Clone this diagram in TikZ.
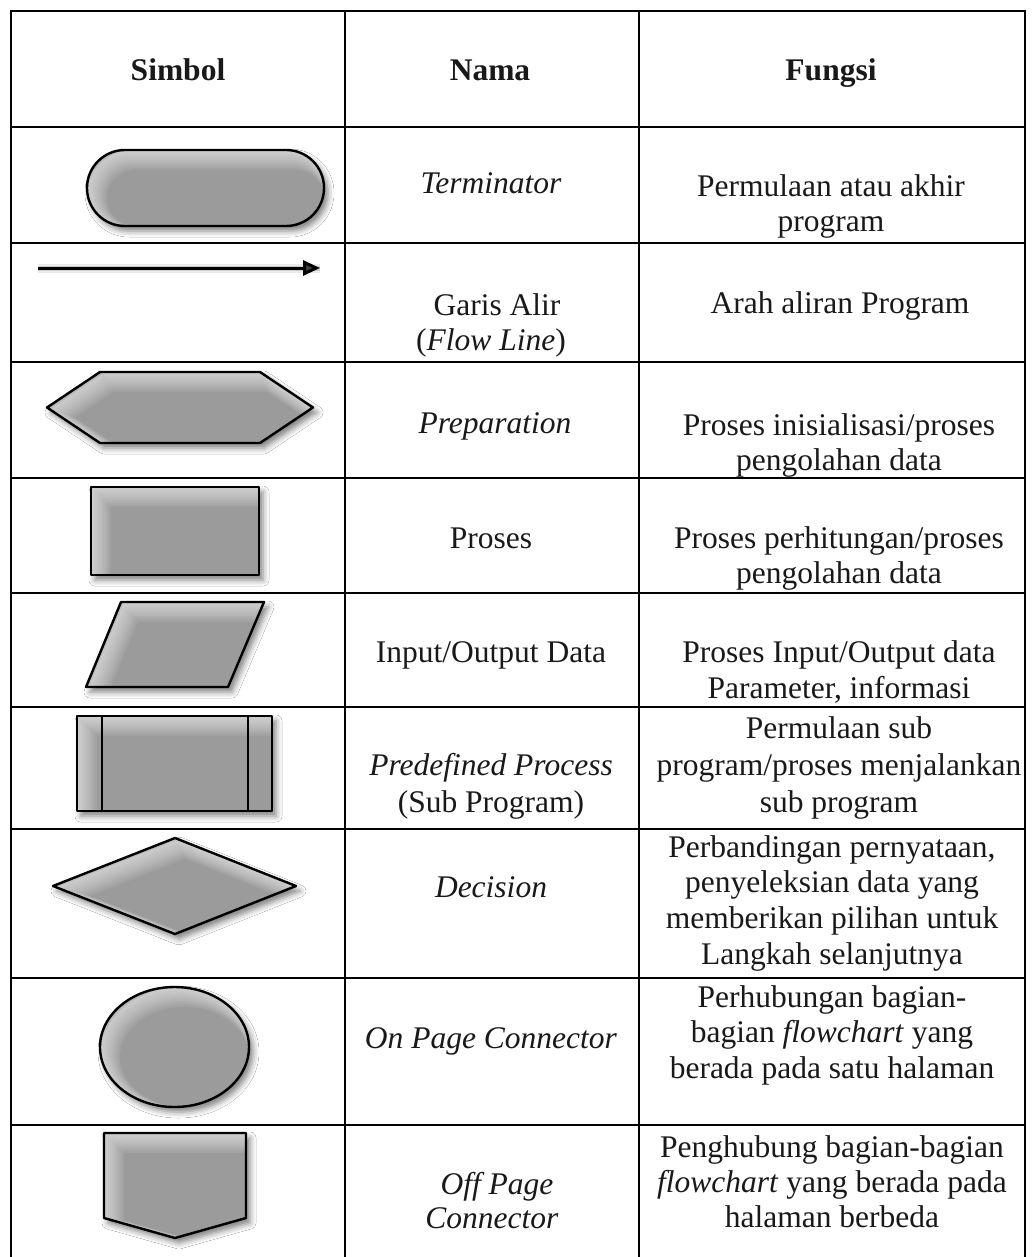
\documentclass[tikz,border=0pt]{standalone}
\usepackage{fontspec}
\setmainfont{Liberation Serif}
\usetikzlibrary{arrows.meta,shadows.blur}
\definecolor{symfill}{RGB}{155,155,155}
\definecolor{inkcol}{RGB}{25,25,25}
\tikzset{
  grid/.style={line width=2.8pt, line cap=rect},
  txt/.style={anchor=base, inner sep=0pt, text=inkcol, font=\fontsize{31.5}{35.5}\selectfont},
  hd/.style={txt, font=\fontsize{31.5}{35.5}\selectfont\bfseries},
  symshadow/.style={blur shadow={shadow xshift=4pt, shadow yshift=-5pt, shadow blur radius=6pt, shadow opacity=50}},
  outline/.style={draw=black, line width=2.4pt, line join=round},
  flow/.style={line width=3pt, -{Triangle[length=17pt,width=15pt]}},
}
% a flowchart symbol: soft shadow, grey fill, soft light inner edge at top left, black outline
\newcommand\flowsym[1]{%
  \path[symshadow, fill=symfill] #1;
  \begin{scope}
    \clip #1;
    \foreach \w in {2,4,...,20}{
      \draw[white, line width=\w pt, opacity=0.075, shift={(\w/2,\w/2)}] #1;}
  \end{scope}
  \draw[outline] #1;
}
\begin{document}
\begin{tikzpicture}[x=1pt,y=-1pt]
\useasboundingbox[fill=white] (0,0) rectangle (1034,1257);

% table rules
\foreach \yy in {11,127,243,362,478,593,707,829,978,1125}
  \draw[grid] (11,\yy) -- (1025,\yy);
\foreach \xx in {11,345,639,1025}
  \draw[grid] (\xx,11) -- (\xx,1262);

% header
\node[hd] (hs) at (178,81) {Simbol};
\node[hd] (hn) at (490,81) {Nama};
\node[hd] (hf) at (831,81) {Fungsi};

% symbols
\flowsym{[rounded corners=37.9pt] (87,150) rectangle (324,226)}
\coordinate (fa) at (38,268);
\coordinate (fb) at (320,268);
\draw[line width=9pt, black, opacity=0.08, shift={(3,5)}] (fa) -- (fb);
\draw[line width=5pt, black, opacity=0.12, shift={(3,5)}] (fa) -- (fb);
\draw[flow] (fa) -- (fb);
\flowsym{(47,407.5) -- (100,372) -- (260,372) -- (313,407.5) -- (260,443) -- (100,443) -- cycle}
\flowsym{(91,487) rectangle (259,575)}
\flowsym{(121,602) -- (264,602) -- (228,687) -- (86,687) -- cycle}
\flowsym{(77,716) rectangle (272,811)}
\draw[outline] (102,716) -- (102,811) (248,716) -- (248,811);
\flowsym{(53,886) -- (175,838) -- (296,886) -- (175,934) -- cycle}
\flowsym{(174.5,1047) ellipse [x radius=74.5, y radius=60]}
\flowsym{(104,1133) -- (246,1133) -- (246,1218) -- (175,1238) -- (104,1218) -- cycle}

% names
\node[txt] (n1) at (491,194) {\textit{Terminator}};
\node[txt] (n2a) at (497,315) {Garis Alir};
\node[txt] (n2b) at (491,350) {(\textit{Flow Line})};
\node[txt] (n3) at (495,433) {\textit{Preparation}};
\node[txt] (n4) at (491,548) {Proses};
\node[txt] (n5) at (491,662) {Input/Output Data};
\node[txt] (n6a) at (491,775) {\textit{Predefined Process}};
\node[txt] (n6b) at (491,812) {(Sub Program)};
\node[txt] (n7) at (491,897) {\textit{Decision}};
\node[txt] (n8) at (491,1048) {\textit{On Page Connector}};
\node[txt] (n9a) at (497,1194) {\textit{Off Page}};
\node[txt] (n9b) at (492,1228) {\textit{Connector}};

% functions
\node[txt] (f1a) at (831,197) {Permulaan atau akhir};
\node[txt] (f1b) at (831,232) {program};
\node[txt] (f2) at (840,313) {Arah aliran Program};
\node[txt] (f3a) at (839,435) {Proses inisialisasi/proses};
\node[txt] (f3b) at (839,470) {pengolahan data};
\node[txt] (f4a) at (839,548) {Proses perhitungan/proses};
\node[txt] (f4b) at (839,583) {pengolahan data};
\node[txt] (f5a) at (839,662) {Proses Input/Output data};
\node[txt] (f5b) at (839,698) {Parameter, informasi};
\node[txt] (f6a) at (839,738) {Permulaan sub};
\node[txt] (f6b) at (839,775) {program/proses menjalankan};
\node[txt] (f6c) at (839,812) {sub program};
\node[txt] (f7a) at (832,857) {Perbandingan pernyataan,};
\node[txt] (f7b) at (832,892) {penyeleksian data yang};
\node[txt] (f7c) at (832,928) {memberikan pilihan untuk};
\node[txt] (f7d) at (832,964) {Langkah selanjutnya};
\node[txt] (f8a) at (832,1007) {Perhubungan bagian-};
\node[txt] (f8b) at (832,1042) {bagian \textit{flowchart} yang};
\node[txt] (f8c) at (832,1078) {berada pada satu halaman};
\node[txt] (f9a) at (832,1157) {Penghubung bagian-bagian};
\node[txt] (f9b) at (832,1192) {\textit{flowchart} yang berada pada};
\node[txt] (f9c) at (832,1227) {halaman berbeda};
\end{tikzpicture}
\end{document}
